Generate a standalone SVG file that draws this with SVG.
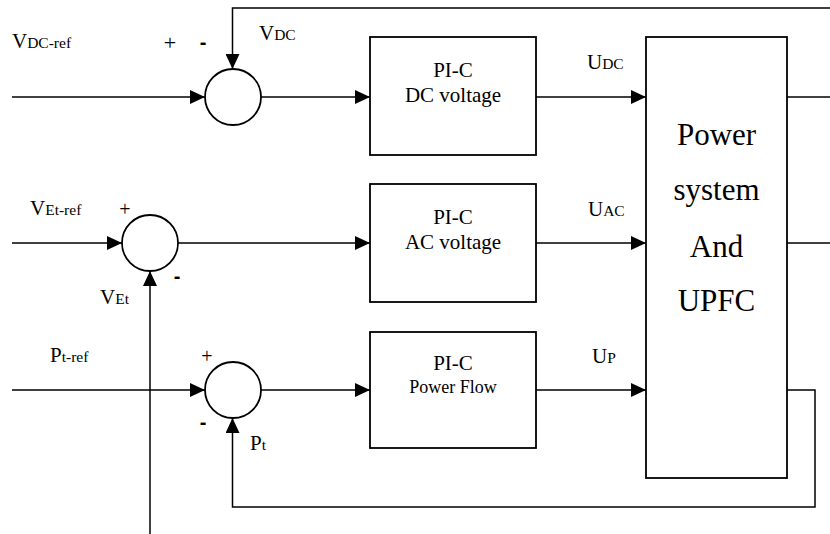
<svg xmlns="http://www.w3.org/2000/svg" width="830" height="534" viewBox="0 0 830 534">
<style>
.ln{fill:none;stroke:#000;stroke-width:1.5}
.arr{marker-end:url(#ah)}
.box{fill:#fff;stroke:#000;stroke-width:1.8}
.sum{fill:#fff;stroke:#000;stroke-width:1.8}
text{font-family:"Liberation Serif","Times New Roman",serif;fill:#000}
.lbl{font-size:21px}
.sub{font-size:15.5px}
.blk{font-size:21px;text-anchor:middle}
.blks{font-size:18px;text-anchor:middle}
.big{font-size:31px;text-anchor:middle}
.plus{font-size:20px;text-anchor:middle}
.minus{font-family:"Liberation Sans",Arial,sans-serif;font-weight:bold;font-size:20px;text-anchor:middle}
</style>
<defs>
<marker id="ah" markerUnits="userSpaceOnUse" markerWidth="15" markerHeight="14" refX="15" refY="7" orient="auto">
<path d="M0,0 L15,7 L0,14 z" fill="#000"/>
</marker>
</defs>
<rect width="830" height="534" fill="#fff"/>
<g id="connectors">
<path class="ln arr" d="M830,8 H232.5 V69"/>
<path class="ln arr" d="M12,97 H205"/>
<path class="ln arr" d="M261,97 H370"/>
<path class="ln arr" d="M536,97 H646"/>
<path class="ln" d="M787,97 H830"/>
<path class="ln arr" d="M12,243 H122"/>
<path class="ln arr" d="M178,243 H370"/>
<path class="ln arr" d="M536,243 H646"/>
<path class="ln" d="M787,243 H830"/>
<path class="ln arr" d="M150,534 V271"/>
<path class="ln arr" d="M12,390 H205"/>
<path class="ln arr" d="M261,390 H370"/>
<path class="ln arr" d="M536,390 H646"/>
<path class="ln arr" d="M787,390 H815 V507 H232.5 V418"/>
</g>
<g id="sum1"><circle class="sum" cx="233" cy="97" r="28"/></g>
<g id="sum2"><circle class="sum" cx="150" cy="243" r="28"/></g>
<g id="sum3"><circle class="sum" cx="233" cy="390" r="28"/></g>
<g id="pi-dc"><rect class="box" x="370" y="37" width="166" height="118"/>
<text class="blk" x="453" y="77">PI-C</text>
<text class="blk" x="453" y="102">DC voltage</text></g>
<g id="pi-ac"><rect class="box" x="370" y="184" width="166" height="118"/>
<text class="blk" x="453" y="224">PI-C</text>
<text class="blk" x="453" y="249">AC voltage</text></g>
<g id="pi-pf"><rect class="box" x="370" y="332" width="166" height="116"/>
<text class="blk" x="453" y="370">PI-C</text>
<text class="blks" x="453" y="393">Power Flow</text></g>
<g id="power-system"><rect class="box" x="646" y="37" width="141" height="441"/>
<text class="big" x="716.5" y="145">Power</text>
<text class="big" x="716.5" y="200">system</text>
<text class="big" x="716.5" y="257">And</text>
<text class="big" x="716.5" y="311">UPFC</text></g>
<g id="labels">
<text class="lbl" x="12" y="48">V<tspan class="sub">DC-ref</tspan></text>
<text class="plus" x="170" y="50" style="font-size:22px">+</text>
<text class="minus" x="203" y="49">-</text>
<text class="lbl" x="259" y="40">V<tspan class="sub">DC</tspan></text>
<text class="lbl" x="30" y="215">V<tspan class="sub">Et-ref</tspan></text>
<text class="plus" x="125" y="216">+</text>
<text class="minus" x="177" y="283">-</text>
<text class="lbl" x="100" y="304">V<tspan class="sub">Et</tspan></text>
<text class="lbl" x="50" y="362">P<tspan class="sub">t-ref</tspan></text>
<text class="plus" x="207" y="363">+</text>
<text class="minus" x="203" y="429">-</text>
<text class="lbl" x="250" y="450">P<tspan class="sub">t</tspan></text>
<text class="lbl" x="587" y="69">U<tspan class="sub">DC</tspan></text>
<text class="lbl" x="588" y="216">U<tspan class="sub">AC</tspan></text>
<text class="lbl" x="592" y="363">U<tspan class="sub">P</tspan></text>
</g>
</svg>
